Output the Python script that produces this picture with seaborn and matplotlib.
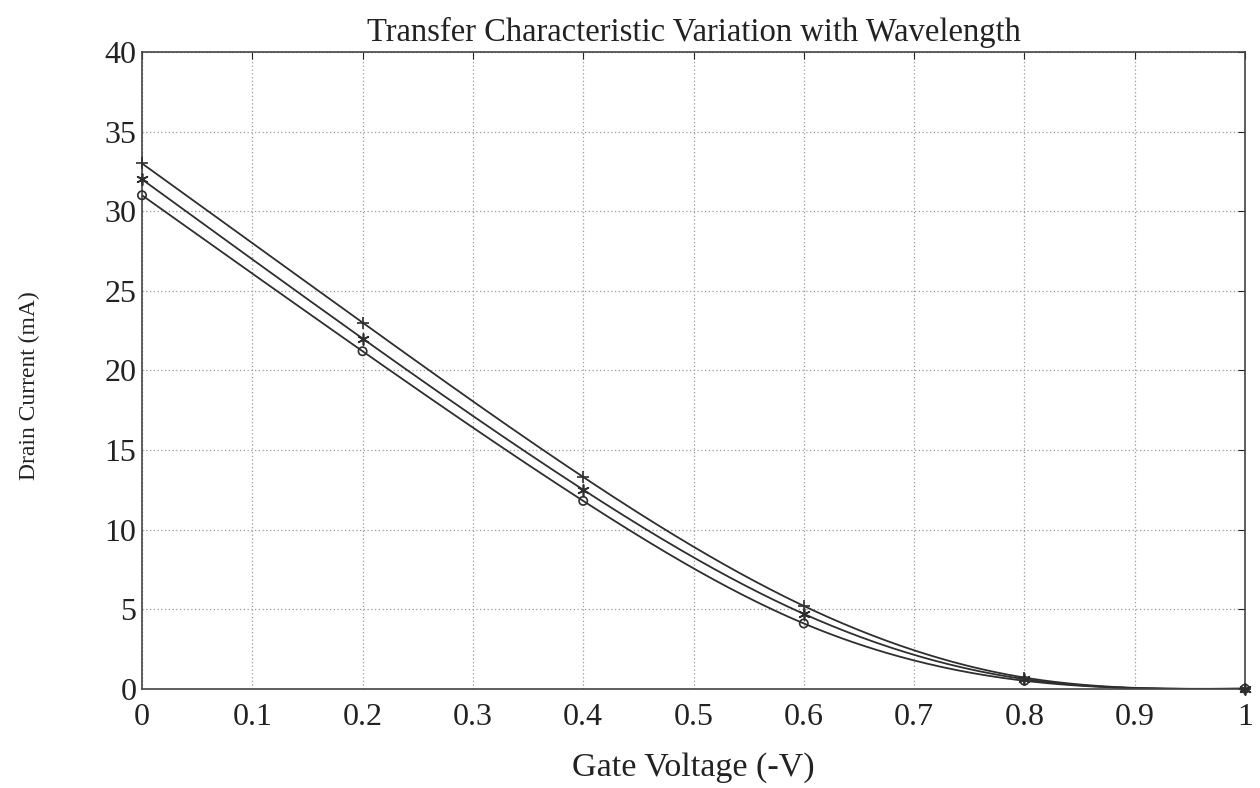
import numpy as np
import pandas as pd
import seaborn as sns
import matplotlib
matplotlib.use("Agg")
import matplotlib.pyplot as plt

# Gate voltage (-V) and drain current (mA) for three wavelengths
gate_voltage = [0.0, 0.2, 0.4, 0.6, 0.8, 1.0]
current_plus = [33.0, 23.0, 13.3, 5.2, 0.7, 0.0]
current_star = [32.0, 22.0, 12.5, 4.7, 0.6, 0.0]
current_circle = [31.0, 21.2, 11.8, 4.1, 0.5, 0.0]

x_ticks = [0, 0.1, 0.2, 0.3, 0.4, 0.5, 0.6, 0.7, 0.8, 0.9, 1]
x_tick_labels = ["0", "0.1", "0.2", "0.3", "0.4", "0.5", "0.6", "0.7", "0.8", "0.9", "1"]
y_ticks = [0, 5, 10, 15, 20, 25, 30, 35, 40]

sns.set_style("white")
plt.rcParams["font.family"] = ["Liberation Serif", "DejaVu Serif"]


def natural_spline(x, y, xs):
    """Smooth curve through the measured points (natural cubic spline)."""
    x = np.asarray(x, float)
    y = np.asarray(y, float)
    n = len(x)
    h = np.diff(x)
    A = np.zeros((n, n))
    b = np.zeros(n)
    A[0, 0] = A[-1, -1] = 1
    for i in range(1, n - 1):
        A[i, i - 1] = h[i - 1]
        A[i, i] = 2 * (h[i - 1] + h[i])
        A[i, i + 1] = h[i]
        b[i] = 3 * ((y[i + 1] - y[i]) / h[i] - (y[i] - y[i - 1]) / h[i - 1])
    c = np.linalg.solve(A, b)
    out = np.empty_like(xs)
    for k, xv in enumerate(xs):
        i = min(np.searchsorted(x, xv, side="right") - 1, n - 2)
        dx = xv - x[i]
        bi = (y[i + 1] - y[i]) / h[i] - h[i] * (2 * c[i] + c[i + 1]) / 3
        di = (c[i + 1] - c[i]) / (3 * h[i])
        out[k] = y[i] + bi * dx + c[i] * dx ** 2 + di * dx ** 3
    return out


fig = plt.figure(figsize=(12.6, 7.88), dpi=100)
ax = fig.add_axes([0.1127, 0.126, 0.8754, 0.808])

line_color = "#2e2e2e"
series = [
    (current_plus, "+", 9),
    (current_star, (6, 2, 0), 8),
    (current_circle, "o", 6),
]
xs = np.linspace(0, 1, 300)
for values, marker, size in series:
    smooth = pd.DataFrame({"v": xs, "i": natural_spline(gate_voltage, values, xs)})
    sns.lineplot(data=smooth, x="v", y="i", ax=ax, color=line_color, linewidth=1.3)
    pts = pd.DataFrame({"v": gate_voltage, "i": values})
    sns.scatterplot(data=pts, x="v", y="i", ax=ax, marker=marker, s=size ** 2,
                    facecolor="none" if marker == "o" else line_color,
                    edgecolor=line_color, linewidth=1.2, zorder=3, clip_on=False)

ax.set_xlim(0, 1)
ax.set_ylim(0, 40)
ax.set_xticks(x_ticks)
ax.set_xticklabels(x_tick_labels)
ax.set_yticks(y_ticks)
ax.grid(True, linestyle=(0, (1, 2)), color="#9a9a9a", linewidth=0.9)
ax.tick_params(direction="in", length=5, width=0.8, labelsize=23, colors="#222222",
               top=True, right=True)
ax.tick_params(axis="x", pad=10)
ax.tick_params(axis="y", pad=4)
for sp in ax.spines.values():
    sp.set_visible(True)
    sp.set_color("#444444")
    sp.set_linewidth(1.2)

ax.set_title("Transfer Characteristic Variation with Wavelength", fontsize=23.5, pad=8,
             color="#222222")
ax.set_xlabel("Gate Voltage (-V)", fontsize=24.5, color="#222222")
ax.set_ylabel("Drain Current (mA)", fontsize=17, color="#222222")
ax.xaxis.set_label_coords(0.5, -0.1)
ax.yaxis.set_label_coords(-0.0925, 0.476)

fig.savefig("out.png", dpi=100)
